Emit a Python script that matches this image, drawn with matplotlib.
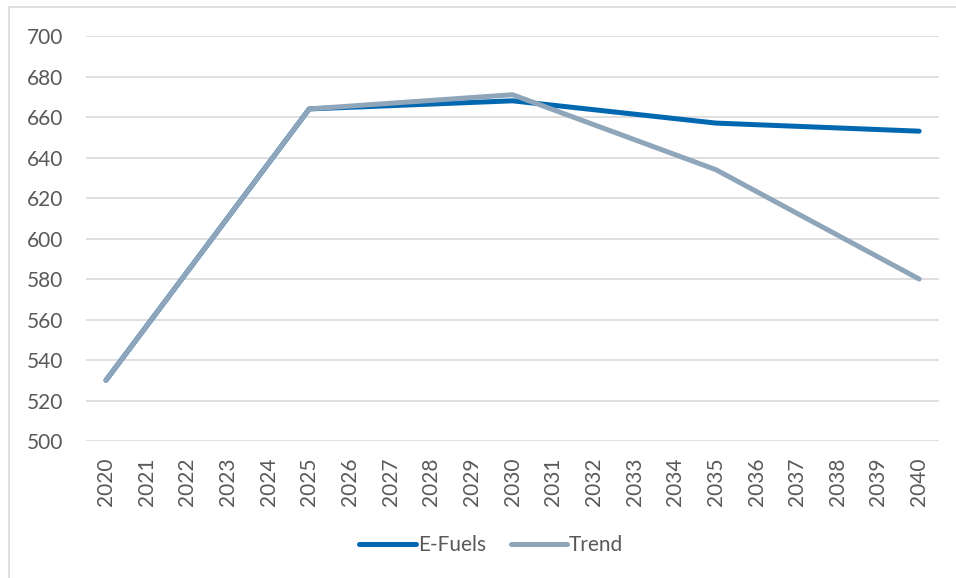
import matplotlib.pyplot as plt
from matplotlib.patches import Rectangle

years = list(range(2020, 2041))
point_years = [2020, 2025, 2030, 2035, 2040]
efuels = [530, 664, 668, 657, 653]
trend = [530, 664, 671, 634, 580]

plt.rcParams['font.family'] = ['Lato', 'DejaVu Sans']
text_col = '#595959'

fig = plt.figure(figsize=(9.56, 5.78), dpi=100)
ax = fig.add_axes([0.0896, 0.237, 0.8931, 0.7007])

ax.plot(point_years, efuels, color='#0067B1', lw=3.6, solid_capstyle='round', label='E-Fuels', zorder=3)
ax.plot(point_years, trend, color='#8FA5B9', lw=3.6, solid_capstyle='round', label='Trend', zorder=4)

ax.set_xlim(2019.5, 2040.5)
ax.set_ylim(500, 700)
ax.set_yticks(range(500, 701, 20))
ax.set_xticks(years)
ax.set_xticklabels([str(y) for y in years], rotation=90)
ax.tick_params(length=0, labelsize=15, colors=text_col)
ax.tick_params(axis='y', pad=16)
ax.tick_params(axis='x', pad=12)
ax.grid(axis='y', color='#D9D9D9', lw=1.2)
ax.set_axisbelow(True)
for s in ax.spines.values():
    s.set_visible(False)

leg = fig.legend(loc='center', bbox_to_anchor=(0.514, 0.057), ncol=2, frameon=False,
                 fontsize=15, handlelength=2.7, handletextpad=0.1, columnspacing=1.2)
for t in leg.get_texts():
    t.set_color(text_col)

fig.patches.append(Rectangle((9 / 956, -0.01), 1.0, 1 - 7 / 578 + 0.01, transform=fig.transFigure,
                             fill=False, edgecolor='#D9D9D9', lw=1.2))

fig.savefig('out.png', dpi=100)
